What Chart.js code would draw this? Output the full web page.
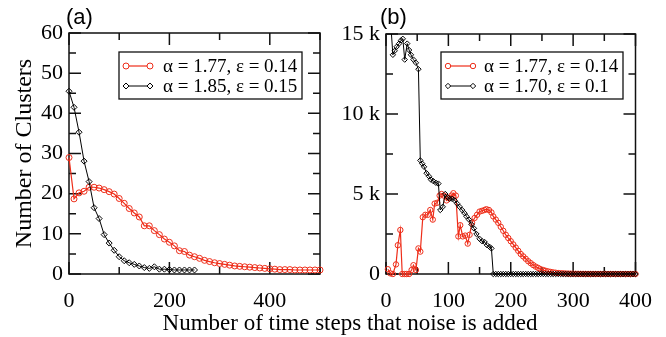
<!DOCTYPE html>
<html>
<head>
<meta charset="utf-8">
<script src="https://cdn.jsdelivr.net/npm/chart.js@4"></script>
<style>
  body { margin: 0; background: #fff; width: 666px; height: 337px; overflow: hidden; position: relative; font-family: "Liberation Serif", serif; }
  canvas { position: absolute; top: 0; }
  #ca { left: 0; }
  #cb { left: 340px; }
  .panel { position: absolute; top: 6px; font-family: "Liberation Sans", sans-serif; font-size: 22px; line-height: 22px; color: #000; }
  #xtitle { position: absolute; left: 0; top: 311px; width: 700px; text-align: center; font-size: 23px; line-height: 23px; color: #000; }
</style>
</head>
<body>
<canvas id="ca" width="340" height="337"></canvas>
<canvas id="cb" width="326" height="337"></canvas>
<div class="panel" style="left:66px">(a)</div>
<div class="panel" style="left:380px">(b)</div>
<div id="xtitle">Number of time steps that noise is added</div>
<script>
// ---- panel (a) ----
var leftX = [0,10,20,30,40,50,60,70,80,90,100,110,120,130,140,150,160,170,180,190,200,
  210,220,230,240,250,260,270,280,290,300,310,320,330,340,350,360,370,380,390,400,
  410,420,430,440,450,460,470,480,490,500];
var leftRedY = [29.0,18.7,20.2,20.6,21.6,21.6,21.4,21.0,20.5,19.9,18.8,17.6,16.3,15.2,14.2,12.0,12.0,10.8,9.8,8.7,7.9,
  7.0,5.8,5.6,4.7,4.3,3.9,3.4,3.1,2.8,2.6,2.4,2.2,2.0,1.9,1.8,1.7,1.6,1.5,1.4,1.3,
  1.2,1.1,1.1,1.1,1.0,1.0,1.0,1.0,1.0,1.0];
var leftBlackX = [0,10,20,30,40,50,60,70,80,90,100,110,120,130,140,150,160,170,180,190,200,210,220,230,240,250];
var leftBlackY = [45.5,41.5,35.3,28.1,23.0,16.5,13.8,9.8,7.7,5.9,4.3,3.3,2.8,2.4,2.0,1.6,1.4,1.8,1.2,1.2,1.1,1.0,1.0,1.0,1.0,1.0];
var leftXTicks = [0,200,400];
var leftYTicks = [0,10,20,30,40,50,60];

// ---- panel (b) ----
var rightRedX = [3,7,11,16,19,23,26,30,33,37,41,44,48,52,55,59,63,67,71,75,78,82,86,89,93,97,101,105,108,112,
  116,119,123,127,131,134,138,142,146,150,154,158,161,165,169,172,176,180,184,188,192,196,200,204,208,212,216,220,224,228,
  232,236,240,244,248,252,256,260,264,268,272,276,280,284,288,292,296,300,304,308,312,316,320,324,328,332,336,340,344,348,
  352,356,360,364,368,372,376,380,384,388,392,396,400];
var rightRedY = [300,40,0,600,1800,2750,0,0,0,0,250,550,250,1600,1400,3550,3700,3700,4000,3400,4400,4450,4900,5000,4900,4600,4750,4900,5050,4900,
  2350,3050,2350,2400,1900,2450,3200,3500,3700,3900,3950,4000,4050,4000,3850,3600,3400,3200,2950,2700,2450,2250,2050,1850,1650,1450,1250,1100,950,800,
  680,560,460,380,300,250,200,160,130,100,80,60,50,40,30,25,20,15,12,10,8,6,5,4,3,3,2,2,2,1,
  1,1,1,1,0,0,0,0,0,0,0,0,0];
var rightBlackX = [7,11,14,17,21,24,27,30,34,37,40,44,48,52,55,58,61,65,69,72,76,80,84,87,91,95,99,102,106,110,
  114,118,122,126,129,133,137,141,145,150,154,158,162,166,169,172,
  176,180,184,188,192,196,200,204,208,212,216,220,224,228,232,236,240,244,248,252,256,260,264,268,272,276,280,284,288,292,
  296,300,304,308,312,316,320,324,328,332,336,340,344,348,352,356,360,364,368,372,376,380,384,388,392,396,400];
var rightBlackY = [16000,13700,13950,14200,14400,14600,14700,13400,14400,14000,13700,13400,13200,12800,7100,6900,6700,6300,6100,5900,
  5800,5700,5650,4000,4200,5000,4800,4700,4700,4600,4400,4200,4000,3800,3600,3400,3100,2850,2500,2200,2050,2000,1800,1700,1600,0,
  0,0,0,0,0,0,0,0,0,0,0,0,0,0,0,0,0,0,0,0,0,0,0,0,0,0,0,0,0,0,
  0,0,0,0,0,0,0,0,0,0,0,0,0,0,0,0,0,0,0,0,0,0,0,0,0,0,0];
var rightXTicks = [0,100,200,300,400];
var rightYTicks = [0,5000,10000,15000];
var rightYTickLabels = ['0','5 k','10 k','15 k'];

var RED = 'rgb(238,45,25)';
var BLACK = '#000';
var tickFont = { family: 'Liberation Serif', size: 22 };

function pts(xs, ys) {
  return xs.map(function (x, i) { return { x: x, y: ys[i] }; });
}

// frame with inward major/minor ticks on all four sides
var framePlugin = {
  id: 'frame',
  beforeDatasetsDraw: function (chart, args, o) {
    var ctx = chart.ctx, a = chart.chartArea, sx = chart.scales.x, sy = chart.scales.y;
    ctx.save();
    ctx.strokeStyle = '#111';
    ctx.lineWidth = 1.5;
    ctx.strokeRect(a.left, a.top, a.right - a.left, a.bottom - a.top);
    ctx.beginPath();
    var v, p, len;
    for (v = sx.min; v <= sx.max + 1e-6; v += o.xMinor) {
      len = Math.abs(v / o.xMajor - Math.round(v / o.xMajor)) < 1e-6 ? 12 : 7;
      p = sx.getPixelForValue(v);
      ctx.moveTo(p, a.bottom); ctx.lineTo(p, a.bottom - len);
      ctx.moveTo(p, a.top); ctx.lineTo(p, a.top + len);
    }
    for (v = sy.min; v <= sy.max + 1e-6; v += o.yMinor) {
      len = Math.abs(v / o.yMajor - Math.round(v / o.yMajor)) < 1e-6 ? 12 : 7;
      p = sy.getPixelForValue(v);
      ctx.moveTo(a.left, p); ctx.lineTo(a.left + len, p);
      ctx.moveTo(a.right, p); ctx.lineTo(a.right - len, p);
    }
    ctx.stroke();
    ctx.restore();
  }
};

// boxed legend, entries taken from the datasets in index order
var boxLegendPlugin = {
  id: 'boxLegend',
  afterDatasetsDraw: function (chart, args, o) {
    var ctx = chart.ctx;
    ctx.save();
    ctx.fillStyle = '#fff';
    ctx.fillRect(o.left, o.top, o.right - o.left, o.bottom - o.top);
    ctx.strokeStyle = '#111';
    ctx.lineWidth = 1.3;
    ctx.strokeRect(o.left, o.top, o.right - o.left, o.bottom - o.top);
    chart.data.datasets.forEach(function (ds, i) {
      var y = o.rows[i];
      ctx.strokeStyle = ds.borderColor;
      ctx.lineWidth = ds.borderWidth;
      ctx.beginPath();
      ctx.moveTo(o.x0, y); ctx.lineTo(o.x1, y);
      ctx.stroke();
      ctx.fillStyle = '#fff';
      ctx.lineWidth = 1;
      var st = { pointStyle: ds.pointStyle, radius: ds.pointRadius, rotation: 0, borderWidth: 1 };
      Chart.helpers.drawPoint(ctx, st, o.x0, y);
      Chart.helpers.drawPoint(ctx, st, o.x1, y);
      ctx.fillStyle = '#000';
      ctx.font = o.fontSize + 'px "Liberation Serif"';
      ctx.textBaseline = 'middle';
      ctx.textAlign = 'left';
      ctx.fillText(ds.label, o.textX, y + 1);
    });
    ctx.restore();
  }
};

function makeChart(el, cfg) {
  return new Chart(el, {
    type: 'line',
    data: {
      datasets: [{
        label: cfg.labels[0],
        data: pts(cfg.redX, cfg.redY),
        borderColor: RED, borderWidth: 1.2,
        pointStyle: 'circle', pointRadius: cfg.redR, pointBorderWidth: 1,
        pointBackgroundColor: 'rgba(255,255,255,0)', pointBorderColor: RED,
        order: 1, clip: { left: 6, top: 0, right: 6, bottom: 6 }
      }, {
        label: cfg.labels[1],
        data: pts(cfg.blackX, cfg.blackY),
        borderColor: BLACK, borderWidth: 1,
        pointStyle: 'rectRot', pointRadius: cfg.blackR, pointBorderWidth: 1,
        pointBackgroundColor: 'rgba(255,255,255,0)', pointBorderColor: BLACK,
        order: 0, clip: { left: 6, top: 0, right: 6, bottom: 6 }
      }]
    },
    options: {
      responsive: false,
      animation: false,
      events: [],
      layout: { padding: cfg.padding },
      plugins: {
        legend: { display: false },
        tooltip: { enabled: false },
        frame: cfg.frame,
        boxLegend: cfg.legend
      },
      scales: {
        x: {
          type: 'linear', min: cfg.xMin, max: cfg.xMax,
          grid: { display: false, drawTicks: false },
          border: { display: false },
          afterBuildTicks: function (s) { s.ticks = cfg.xTicks.map(function (v) { return { value: v }; }); },
          afterFit: function (s) { s.height = cfg.xAxisHeight; },
          ticks: { font: tickFont, color: '#000', padding: 14, maxRotation: 0, autoSkip: false }
        },
        y: {
          type: 'linear', min: cfg.yMin, max: cfg.yMax,
          grid: { display: false, drawTicks: false },
          border: { display: false },
          afterBuildTicks: function (s) { s.ticks = cfg.yTicks.map(function (v) { return { value: v }; }); },
          afterFit: function (s) { s.width = cfg.yAxisWidth; },
          title: cfg.yTitle,
          ticks: {
            font: tickFont, color: '#000', padding: 6, autoSkip: false,
            callback: cfg.yLabel
          }
        }
      }
    },
    plugins: [framePlugin, boxLegendPlugin]
  });
}

makeChart(document.getElementById('ca'), {
  labels: ['\u03b1 = 1.77, \u03b5 = 0.14', '\u03b1 = 1.85, \u03b5 = 0.15'],
  redX: leftX, redY: leftRedY, blackX: leftBlackX, blackY: leftBlackY,
  redR: 3, blackR: 3,
  xMin: 0, xMax: 500, yMin: 0, yMax: 60,
  xTicks: leftXTicks, yTicks: leftYTicks,
  padding: { top: 33, right: 20, left: 0, bottom: 0 },
  xAxisHeight: 63, yAxisWidth: 69,
  yTitle: { display: true, text: 'Number of Clusters', color: '#000',
            font: { family: 'Liberation Serif', size: 24 }, padding: { top: 10, bottom: 0 } },
  yLabel: function (v) { return String(v); },
  frame: { xMinor: 100, xMajor: 200, yMinor: 5, yMajor: 10 },
  legend: { left: 119, top: 52, right: 302, bottom: 99, x0: 126, x1: 150, textX: 163, rows: [66, 86], fontSize: 19 }
});

makeChart(document.getElementById('cb'), {
  labels: ['\u03b1 = 1.77, \u03b5 = 0.14', '\u03b1 = 1.70, \u03b5 = 0.1'],
  redX: rightRedX, redY: rightRedY, blackX: rightBlackX, blackY: rightBlackY,
  redR: 2.7, blackR: 2.7,
  xMin: 0, xMax: 400, yMin: 0, yMax: 15000,
  xTicks: rightXTicks, yTicks: rightYTicks,
  padding: { top: 34, right: 30, left: 0, bottom: 0 },
  xAxisHeight: 63, yAxisWidth: 46,
  yTitle: { display: false },
  yLabel: function (v) { return rightYTickLabels[rightYTicks.indexOf(v)]; },
  frame: { xMinor: 50, xMajor: 100, yMinor: 2500, yMajor: 5000 },
  legend: { left: 101, top: 52, right: 283, bottom: 99, x0: 108, x1: 133, textX: 144, rows: [66, 86], fontSize: 19 }
});
</script>
</body>
</html>
